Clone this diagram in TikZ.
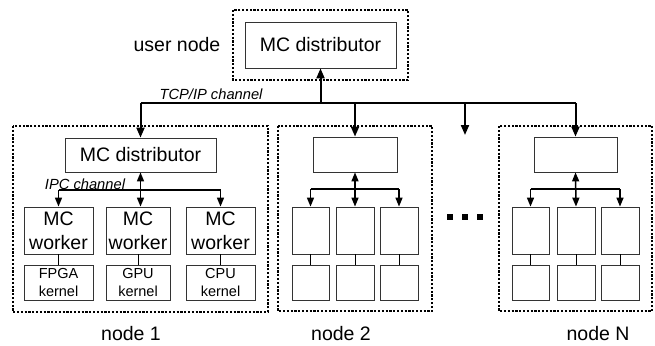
\documentclass[tikz,border=0pt]{standalone}
\usepackage{fontspec}
\setmainfont{Liberation Sans}
\usetikzlibrary{arrows.meta}

\tikzset{
  box/.style={draw=black!80, line width=0.8pt, inner sep=0pt, align=center,
    font=\fontsize{19.5}{24}\selectfont},
  kbox/.style={box, font=\fontsize{14.5}{18.5}\selectfont},
  group/.style={draw, line width=1.2pt, dash pattern=on 2.2pt off 1.6pt},
  buswire/.style={line width=2pt, -{Triangle[length=10pt,width=8pt]}},
  link/.style={line width=1.5pt, -{Triangle[length=9pt,width=7pt]}},
  twoway/.style={line width=1.5pt, {Triangle[length=9pt,width=7pt]}-{Triangle[length=9pt,width=7pt]}},
  plain/.style={line width=1pt},
  chan/.style={font=\fontsize{14.7}{16}\selectfont\itshape},
  lbl/.style={font=\fontsize{19.5}{20}\selectfont},
}

\begin{document}
\begin{tikzpicture}[x=1pt,y=-1pt]
        \useasboundingbox (0,0) rectangle (655,345);
        % dotted frames
        \draw[group] (233,10) rectangle (408,80);
        \draw[group] (13,126) rectangle (268,312);
        \draw[group] (278,126) rectangle (432,311);
        \draw[group] (499,126) rectangle (652,311);
        \node[lbl] (ulabel) at (177,45) {user node};
        \node[lbl] (n1label) at (131,334) {node 1};
        \node[lbl] (n2label) at (341,334) {node 2};
        \node[lbl] (nNlabel) at (598,334) {node N};
        % distributors
        \node[box, minimum width=151pt, minimum height=46pt] (ud) at (320.5,45) {MC distributor};
        \node[box, minimum width=151pt, minimum height=34pt] (d1) at (140.5,155) {MC distributor};
        \node[box, minimum width=84pt, minimum height=35pt] (d2) at (355,154.5) {};
        \node[box, minimum width=83pt, minimum height=35pt] (dN) at (575.5,154.5) {};
        % node 1 workers and kernels
        \node[box, minimum width=69pt, minimum height=47pt] (w11) at (58.5,230.5) {MC\\worker};
        \node[box, minimum width=64pt, minimum height=47pt] (w12) at (138,230.5) {MC\\worker};
        \node[box, minimum width=69pt, minimum height=47pt] (w13) at (220.5,230.5) {MC\\worker};
        \node[kbox, minimum width=69pt, minimum height=35pt] (k11) at (58.5,282.5) {FPGA\\kernel};
        \node[kbox, minimum width=64pt, minimum height=35pt] (k12) at (138,282.5) {GPU\\kernel};
        \node[kbox, minimum width=69pt, minimum height=35pt] (k13) at (220.5,282.5) {CPU\\kernel};
        % node 2 workers and kernels
        \node[box, minimum width=37pt, minimum height=47pt] (w21) at (310.5,230.5) {};
        \node[box, minimum width=38pt, minimum height=47pt] (w22) at (355,230.5) {};
        \node[box, minimum width=38pt, minimum height=47pt] (w23) at (399,230.5) {};
        \node[box, minimum width=37pt, minimum height=35pt] (k21) at (310.5,282.5) {};
        \node[box, minimum width=38pt, minimum height=35pt] (k22) at (355,282.5) {};
        \node[box, minimum width=38pt, minimum height=35pt] (k23) at (399,282.5) {};
        % node N workers and kernels
        \node[box, minimum width=37pt, minimum height=47pt] (wN1) at (530.5,230.5) {};
        \node[box, minimum width=38pt, minimum height=47pt] (wN2) at (576,230.5) {};
        \node[box, minimum width=38pt, minimum height=47pt] (wN3) at (620,230.5) {};
        \node[box, minimum width=37pt, minimum height=35pt] (kN1) at (530.5,282.5) {};
        \node[box, minimum width=38pt, minimum height=35pt] (kN2) at (576,282.5) {};
        \node[box, minimum width=38pt, minimum height=35pt] (kN3) at (620,282.5) {};
        % dots between node 2 and node N
        \node[fill, minimum size=6pt, inner sep=0pt] (dot1) at (450,217) {};
        \node[fill, minimum size=6pt, inner sep=0pt] (dot2) at (465,217) {};
        \node[fill, minimum size=6pt, inner sep=0pt] (dot3) at (480,217) {};
        % TCP/IP bus
        \coordinate (bus) at (0,103);
        \coordinate (more) at (465,135);
        \draw[line width=2pt] (d1.north |- bus) -- (dN.north |- bus);
        \draw[buswire] (ud.south |- bus) -- (ud.south);
        \draw[buswire] (d1.north |- bus) -- (d1.north);
        \draw[buswire] (d2.north |- bus) -- (d2.north);
        \draw[buswire] (more |- bus) -- (more);
        \draw[buswire] (dN.north |- bus) -- (dN.north);
        \node[chan, anchor=south] (tcp) at (211,103) {TCP/IP channel};
        % IPC links inside node 1
        \coordinate (ipc1) at (0,190);
        \draw[line width=1.5pt] (w11.north |- ipc1) -- (w13.north |- ipc1);
        \draw[twoway] (d1.south) -- (d1.south |- w12.north);
        \draw[link] (w11.north |- ipc1) -- (w11.north);
        \draw[link] (w13.north |- ipc1) -- (w13.north);
        \node[chan] (ipc) at (85,184) {IPC channel};
        \draw[plain] (w11) -- (k11);
        \draw[plain] (w12) -- (k12);
        \draw[plain] (w13) -- (k13);
        % IPC links inside node 2
        \coordinate (ipc2) at (0,189);
        \draw[line width=1.5pt] (w21.north |- ipc2) -- (w23.north |- ipc2);
        \draw[twoway] (d2.south) -- (w22.north);
        \draw[link] (w21.north |- ipc2) -- (w21.north);
        \draw[link] (w23.north |- ipc2) -- (w23.north);
        \draw[plain] (w21) -- (k21);
        \draw[plain] (w22) -- (k22);
        \draw[plain] (w23) -- (k23);
        % IPC links inside node N
        \draw[line width=1.5pt] (wN1.north |- ipc2) -- (wN3.north |- ipc2);
        \draw[twoway] (dN.south) -- (wN2.north);
        \draw[link] (wN1.north |- ipc2) -- (wN1.north);
        \draw[link] (wN3.north |- ipc2) -- (wN3.north);
        \draw[plain] (wN1) -- (kN1);
        \draw[plain] (wN2) -- (kN2);
        \draw[plain] (wN3) -- (kN3);
\end{tikzpicture}
\end{document}
